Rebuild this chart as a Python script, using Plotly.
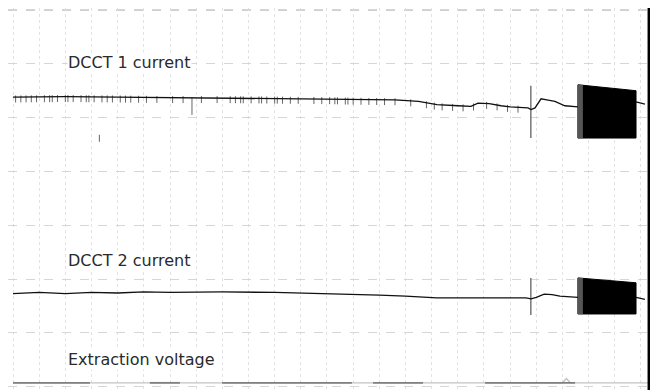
import numpy as np
import plotly.graph_objects as go

# time axis: 10 units per chart division; amplitude: 10 units per division
dcct1_t = [0, 20, 40, 60, 80, 100, 121, 130, 146, 155, 162, 170, 175, 177.7, 182,
           186.5, 190, 196.8, 198, 199.5, 201.8, 204, 207.1, 210.9, 214.7, 215.9]
dcct1_v = [53.8, 53.9, 53.8, 53.7, 53.7, 53.6, 53.5, 53.4, 53.3, 53.0, 52.4, 52.2, 52.1, 52.7, 52.6,
           52.2, 52.0, 51.8, 51.5, 51.8, 53.5, 53.3, 53.0, 52.2, 52.0, 52.0]
dcct1_after_t = [238.1, 241.5]
dcct1_after_v = [52.9, 52.5]
dcct1_noise_t = [1, 3, 5, 7, 9, 12, 14, 15, 17, 20, 21, 23, 26, 28, 29, 31, 34, 36, 38, 41, 43,
                 45, 48, 51, 55, 61, 65, 72, 78, 83, 85, 87, 88, 91, 94, 95, 97, 100, 101, 103,
                 106, 109, 115, 118, 121, 123, 124, 127, 128, 130, 133, 136, 139, 142, 146, 152,
                 158, 161, 164, 168, 172, 176, 181, 185, 189, 193]
dcct1_noise_depth = 1.0
dcct1_glitch_t = 68.4
dcct1_glitch_v = [53.8, 50.5]
stray_t = 33
stray_v = [46.8, 45.5]
dcct1_spike_t = 197.9
dcct1_spike_v = [55.9, 46.2]
dcct1_block_t = [215.9, 238.1]
dcct1_block_top = [56.1, 55.0]
dcct1_block_bottom = 46.2

dcct2_t = [0, 10, 20, 30, 40, 50, 60, 80, 100, 120, 140, 150, 162, 196, 198, 200, 203,
           206, 209, 215.9]
dcct2_v = [17.3, 17.5, 17.3, 17.5, 17.4, 17.6, 17.5, 17.6, 17.5, 17.3, 17.0, 16.8, 16.5,
           16.5, 16.3, 16.6, 17.2, 17.1, 16.8, 16.6]
dcct2_after_t = [238.1, 241.5]
dcct2_after_v = [16.6, 16.2]
dcct2_spike_t = 197.9
dcct2_spike_v = [20.2, 13.3]
dcct2_block_t = [215.9, 238.1]
dcct2_block_top = [20.2, 19.3]
dcct2_block_bottom = 13.5

extr_t = [0, 207, 210, 211.5, 213, 243]
extr_v = [0.7, 0.7, 0.7, 1.5, 0.7, 0.7]
extr_dark = [(0, 29.4), (52.3, 63.8), (79.9, 129.5), (137.6, 156.7), (180.4, 214.8)]

labels = ["DCCT 1 current", "DCCT 2 current", "Extraction voltage"]
label_y = [60.15, 23.5, 5.13]
label_t = 20.6

fig = go.Figure()

BLACK = "#111"

# extraction voltage
fig.add_trace(go.Scatter(x=extr_t, y=extr_v, mode="lines",
                         line=dict(color="#c4c4c4", width=1.4), hoverinfo="skip"))
xs, ys = [], []
for a, b in extr_dark:
    xs += [a, b, None]
    ys += [extr_v[0], extr_v[0], None]
fig.add_trace(go.Scatter(x=xs, y=ys, mode="lines",
                         line=dict(color="#808080", width=1.8), hoverinfo="skip"))

# DCCT1 noise ticks
nx, ny = [], []
for t in dcct1_noise_t:
    b = float(np.interp(t, dcct1_t, dcct1_v))
    nx += [t, t, None]
    ny += [b + 0.3, b - dcct1_noise_depth, None]
nx += [dcct1_glitch_t, dcct1_glitch_t, None, stray_t, stray_t]
ny += [dcct1_glitch_v[0], dcct1_glitch_v[1], None, stray_v[0], stray_v[1]]
fig.add_trace(go.Scatter(x=nx, y=ny, mode="lines",
                         line=dict(color="#666", width=1), hoverinfo="skip"))

# spikes
fig.add_trace(go.Scatter(x=[dcct1_spike_t, dcct1_spike_t, None, dcct2_spike_t, dcct2_spike_t],
                         y=[dcct1_spike_v[0], dcct1_spike_v[1], None, dcct2_spike_v[0], dcct2_spike_v[1]],
                         mode="lines", line=dict(color="#777", width=1.5), hoverinfo="skip"))

# main traces
for tt, vv in [(dcct1_t, dcct1_v), (dcct1_after_t, dcct1_after_v),
               (dcct2_t, dcct2_v), (dcct2_after_t, dcct2_after_v)]:
    fig.add_trace(go.Scatter(x=tt, y=vv, mode="lines",
                             line=dict(color=BLACK, width=1.3), hoverinfo="skip"))

# blocks (rapid oscillation bands)
for bt, btop, bbot in [(dcct1_block_t, dcct1_block_top, dcct1_block_bottom),
                       (dcct2_block_t, dcct2_block_top, dcct2_block_bottom)]:
    fig.add_trace(go.Scatter(x=[bt[0], bt[1], bt[1], bt[0], bt[0]],
                             y=[btop[0], btop[1], bbot, bbot, btop[0]],
                             mode="lines", fill="toself", fillcolor="#000",
                             line=dict(color="#000", width=1), hoverinfo="skip"))
    fig.add_trace(go.Scatter(x=[bt[0], bt[0] + 1.9, bt[0] + 1.9, bt[0], bt[0]],
                             y=[btop[0], btop[0], bbot, bbot, btop[0]],
                             mode="lines", fill="toself", fillcolor="#555",
                             line=dict(color="#555", width=0), hoverinfo="skip"))

for txt, y in zip(labels, label_y):
    fig.add_annotation(x=label_t, y=y, text=txt, showarrow=False, xanchor="left",
                       yanchor="middle", bgcolor="white", borderpad=0,
                       font=dict(family="DejaVu Sans", size=16, color="#2a2a2a"))

fig.add_hline(y=70, line=dict(color="#a0a0a0", width=1.2, dash="dash"), layer="below")
fig.add_shape(type="line", xref="paper", yref="paper", x0=0.987, x1=0.987, y0=0, y1=1,
              line=dict(color="#000", width=4))

# the page body adds an 8px margin, so the figure is 650x382 and ranges account for it
fig.update_layout(
    width=650, height=382, margin=dict(l=0, r=0, t=0, b=0),
    paper_bgcolor="white", plot_bgcolor="white", showlegend=False,
    xaxis=dict(range=[-1.91, 246.5], tick0=0, dtick=10, showgrid=True,
               gridcolor="#e2e2e2", griddash="dot", gridwidth=1,
               showticklabels=False, zeroline=False, ticks=""),
    yaxis=dict(range=[-0.63, 70.37], tick0=0, dtick=10, showgrid=True,
               gridcolor="#d6d6d6", griddash="dash", gridwidth=1,
               showticklabels=False, zeroline=False, ticks=""),
)
fig.write_html("out.html")
